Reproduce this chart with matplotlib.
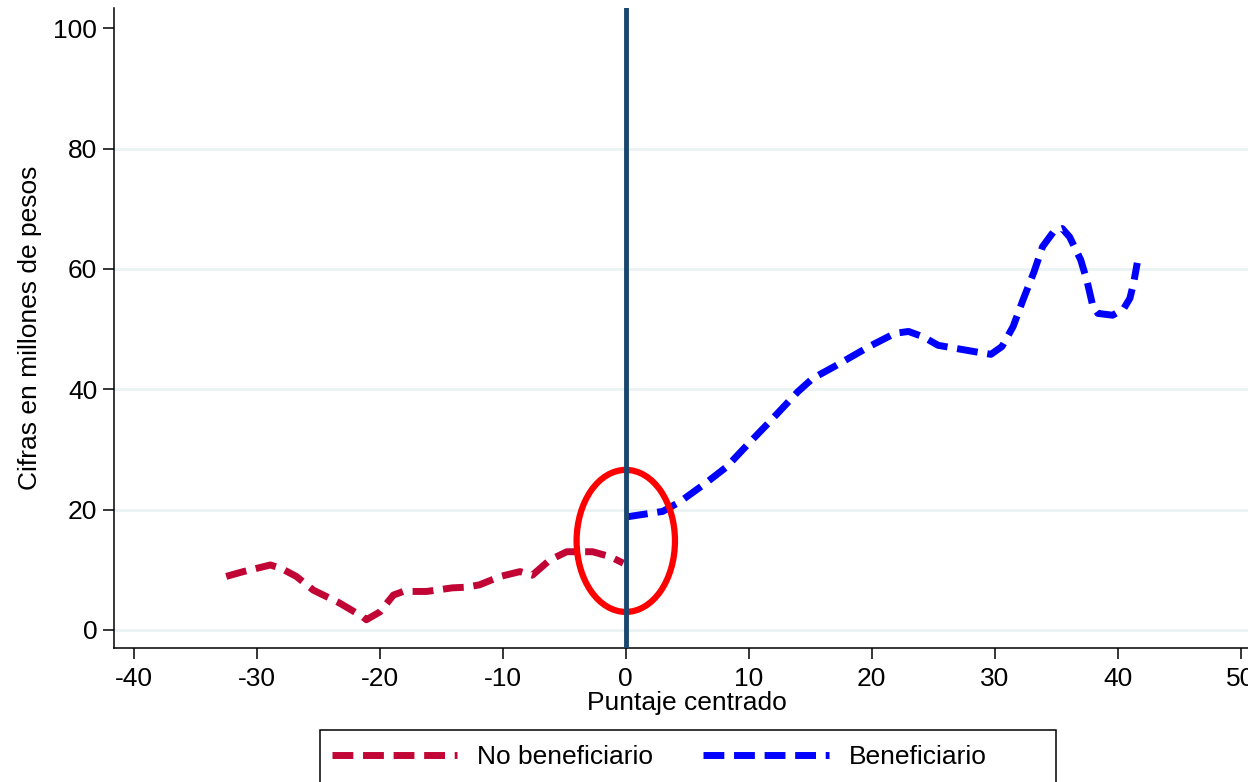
import matplotlib
matplotlib.use("Agg")
import matplotlib.pyplot as plt
from matplotlib.patches import Ellipse, Rectangle

plt.rcParams['font.family'] = ['Liberation Sans', 'DejaVu Sans']
plt.rcParams['axes.unicode_minus'] = False

# data
x_nb = [-32.5, -31.1, -28.9, -28.0, -26.8, -25.4, -23.3, -21.4, -21.1, -20.0, -18.9, -18.1,
        -16.2, -14.1, -13.0, -11.9, -10.2, -8.6, -7.6, -6.2, -4.8, -2.7, -1.3, -0.2]
y_nb = [8.9, 9.7, 10.8, 10.2, 8.9, 6.6, 4.5, 2.2, 1.7, 3.0, 5.8, 6.4,
        6.4, 7.0, 7.1, 7.5, 8.9, 9.7, 9.1, 11.6, 13.0, 13.0, 12.2, 11.1]

x_b = [0.1, 3.0, 4.4, 6.5, 8.2, 10.0, 11.7, 14.0, 15.2, 16.9, 19.8, 21.9, 23.0, 24.2, 25.4,
       28.5, 29.7, 30.6, 31.5, 32.3, 33.2, 33.9, 34.8, 35.5, 36.1, 37.0, 37.5, 38.0, 38.4,
       39.6, 40.5, 41.0, 41.3, 41.6]
y_b = [18.8, 19.7, 21.3, 24.4, 27.1, 31.0, 34.6, 39.6, 41.8, 43.7, 47.1, 49.3, 49.6, 48.7, 47.3,
       46.2, 45.8, 47.1, 50.4, 54.8, 59.5, 63.7, 66.2, 66.7, 65.3, 61.5, 58.1, 53.7, 52.6,
       52.3, 53.4, 55.1, 57.6, 61.0]

x_ticks = [-40, -30, -20, -10, 0, 10, 20, 30, 40, 50]
y_ticks = [0, 20, 40, 60, 80, 100]
grid_vals = [0, 20, 40, 60, 80]

fs = 19
W, H = 1248, 782
fig = plt.figure(figsize=(W / 100, H / 100), dpi=100)
ax = fig.add_axes([0.0913, 0.1714, 0.9175, 0.818])

for g in grid_vals:
    ax.axhline(g, color='#eaf2f3', lw=2, zorder=0)

ax.plot(x_nb, y_nb, color='#c10534', lw=5, dashes=(3, 1.4), dash_capstyle='butt',
        label='No beneficiario', zorder=2)
ax.plot(x_b, y_b, color='#0000ff', lw=5, dashes=(3, 1.4), dash_capstyle='butt',
        label='Beneficiario', zorder=2)

ell = Ellipse((0, 14.8), 8.0, 23.6, fill=False, edgecolor='#ff0000', lw=4.5, zorder=3)
ax.add_patch(ell)
ax.axvline(0, color='#1a476f', lw=3.5, zorder=4)

ax.set_xlim(-41.63, 51.5)
ax.set_ylim(-2.99, 103.3)
ax.set_xticks(x_ticks)
ax.set_yticks(y_ticks)
ax.tick_params(axis='both', direction='out', length=8, width=1.1, labelsize=fs, pad=6)
ax.tick_params(axis='y', pad=4)
for side in ['top', 'right']:
    ax.spines[side].set_visible(False)
for side in ['left', 'bottom']:
    ax.spines[side].set_linewidth(1.1)

ax.set_xlabel('Puntaje centrado', fontsize=fs, labelpad=0)
ax.set_ylabel('Cifras en millones de pesos', fontsize=fs, labelpad=8)

# legend box (runs off the bottom edge like the original)
box = Rectangle((320 / W, 1 - 786 / H), (1056 - 320) / W, 56 / H, transform=fig.transFigure,
                fill=False, edgecolor='black', lw=1.1)
fig.patches.append(box)
leg = fig.legend(loc='center left', bbox_to_anchor=(332 / W, 1 - 757 / H), ncol=2,
                 fontsize=fs, frameon=False, handlelength=4.75,
                 handletextpad=0.75, columnspacing=1.9, borderpad=0, borderaxespad=0)

fig.savefig('out.png', dpi=100)
